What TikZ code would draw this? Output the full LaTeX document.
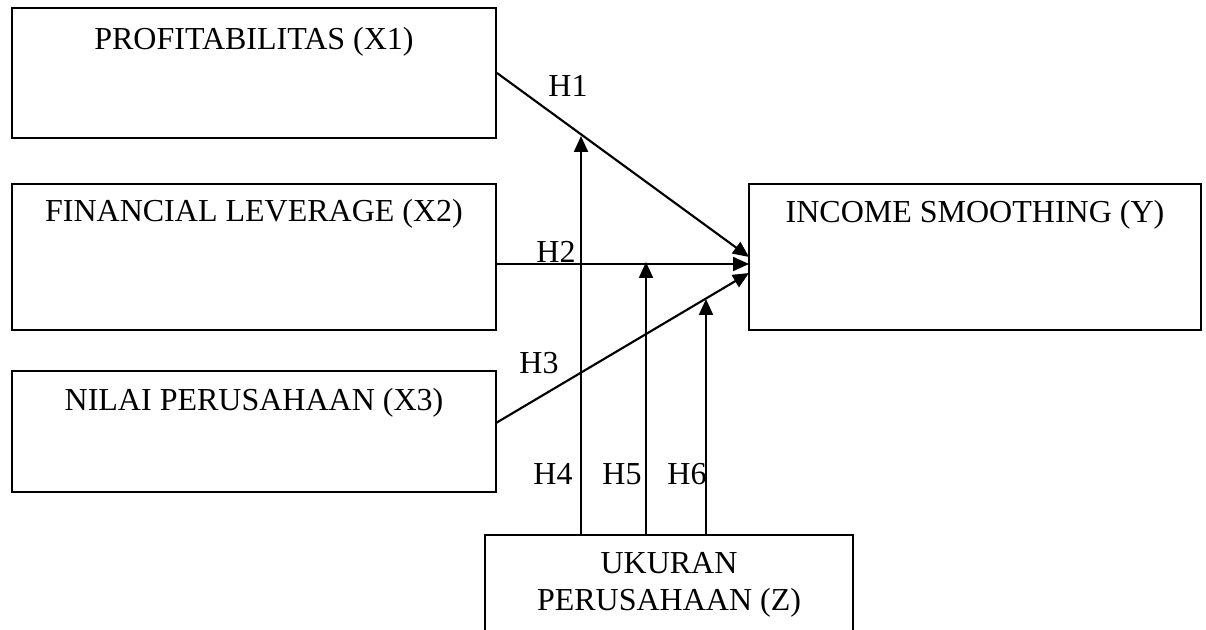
\documentclass[tikz,border=0pt]{standalone}
\usepackage{fontspec}
\setmainfont{Liberation Serif}
\usetikzlibrary{arrows.meta}
\tikzset{
  varbox/.style={draw, line width=1.5pt, rectangle, inner sep=0pt},
  boxtext/.style={anchor=base, inner sep=0.75pt, align=center, font=\fontsize{24}{27.75}\selectfont},
  hyp/.style={line width=1.6pt, -{Triangle[length=12pt,width=10.5pt]}},
}
\begin{document}
\begin{tikzpicture}[x=0.75pt,y=0.75pt,yscale=-1,xscale=1]
\useasboundingbox (0,0) rectangle (1206,630);
\clip (0,0) rectangle (1206,630);
    % Variable boxes
    \node [varbox, minimum width=363pt, minimum height=97.5pt] (x1) at (254,73) {};
    \node [varbox, minimum width=363pt, minimum height=109.5pt] (x2) at (254,257) {};
    \node [varbox, minimum width=363pt, minimum height=90.75pt] (x3) at (254,431.5) {};
    \node [varbox, minimum width=339pt, minimum height=109.5pt] (y) at (975,257) {};
    \node [varbox, minimum width=276pt, minimum height=108.75pt] (z) at (669,607.5) {};

    % Text Nodes
    \node [boxtext] (tx1) at (254,50) {PROFITABILITAS (X1)};
    \node [boxtext] (tx2) at (254,222) {FINANCIAL LEVERAGE (X2)};
    \node [boxtext] (tx3) at (254,411) {NILAI PERUSAHAAN (X3)};
    \node [boxtext] (ty) at (975,223) {INCOME SMOOTHING (Y)};
    \node [boxtext] (tz) at (669,610) {UKURAN\\PERUSAHAAN (Z)};

    % Arrow ends
    \coordinate (s2) at (496,264);
    \coordinate (s3) at (496,423);
    \coordinate (y1) at (749,257);
    \coordinate (y2) at (749,264);
    \coordinate (y3) at (749,273);
    \coordinate (m4) at (581,136);
    \coordinate (m5) at (646,262);
    \coordinate (m6) at (706,299);

    % Direct effects
    \draw [hyp] (x1.east) -- (y1);
    \draw [hyp] (s2) -- (y2);
    \draw [hyp] (s3) -- (y3);
    % Moderating effects
    \draw [hyp] (z.north -| m4) -- (m4);
    \draw [hyp] (z.north -| m5) -- (m5);
    \draw [hyp] (z.north -| m6) -- (m6);

    % Hypothesis labels
    \node [boxtext] (h1) at (568,97) {H1};
    \node [boxtext] (h2) at (556,263) {H2};
    \node [boxtext] (h3) at (539,374) {H3};
    \node [boxtext] (h4) at (553,484) {H4};
    \node [boxtext] (h5) at (622,484) {H5};
    \node [boxtext] (h6) at (687,484) {H6};
\end{tikzpicture}
\end{document}
